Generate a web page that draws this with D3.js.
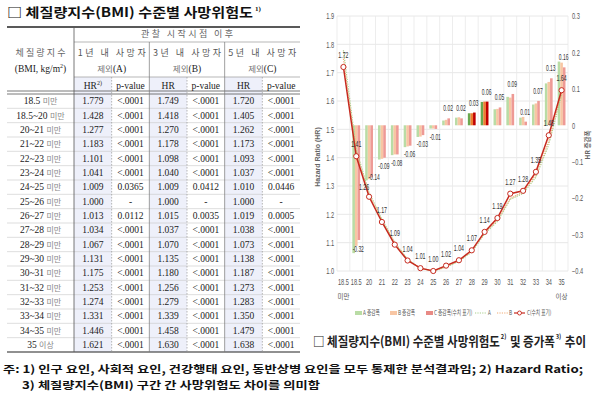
<!DOCTYPE html>
<html><head><meta charset="utf-8">
<script src="https://cdn.jsdelivr.net/npm/d3@7"></script>
<style>html,body{margin:0;padding:0;background:#fff;}svg{display:block;}</style>
</head><body>
<svg id="c" width="600" height="397"></svg>
<script>
// ---------------- DATA ----------------
const categories = ["18.5 미만","18.5~20 미만","20~21 미만","21~22 미만","22~23 미만","23~24 미만","24~25 미만","25~26 미만","26~27 미만","27~28 미만","28~29 미만","29~30 미만","30~31 미만","31~32 미만","32~33 미만","33~34 미만","34~35 미만","35 이상"];
const rowNums = ["18.5","18.5~20","20~21","21~22","22~23","23~24","24~25","25~26","26~27","27~28","28~29","29~30","30~31","31~32","32~33","33~34","34~35","35"];
const rowWords = ["미만","미만","미만","미만","미만","미만","미만","미만","미만","미만","미만","미만","미만","미만","미만","미만","미만","이상"];
const hrA = [1.779,1.428,1.277,1.183,1.101,1.041,1.009,1.000,1.013,1.034,1.067,1.131,1.175,1.253,1.274,1.331,1.446,1.621];
const pA  = ["<.0001","<.0001","<.0001","<.0001","<.0001","<.0001","0.0365","-","0.0112","<.0001","<.0001","<.0001","<.0001","<.0001","<.0001","<.0001","<.0001","<.0001"];
const hrB = [1.749,1.418,1.270,1.178,1.098,1.040,1.009,1.000,1.015,1.037,1.070,1.135,1.180,1.256,1.279,1.339,1.458,1.630];
const pB  = ["<.0001","<.0001","<.0001","<.0001","<.0001","<.0001","0.0412","-","0.0035","<.0001","<.0001","<.0001","<.0001","<.0001","<.0001","<.0001","<.0001","<.0001"];
const hrC = [1.720,1.405,1.262,1.173,1.093,1.037,1.010,1.000,1.019,1.038,1.073,1.138,1.187,1.273,1.283,1.350,1.479,1.638];
const pC  = ["<.0001","<.0001","<.0001","<.0001","<.0001","<.0001","0.0446","-","0.0005","<.0001","<.0001","<.0001","<.0001","<.0001","<.0001","<.0001","<.0001","<.0001"];
const groupTitles = ["1년 내 사망자","3년 내 사망자","5년 내 사망자"];
const groupSubs = ["제외(A)","제외(B)","제외(C)"];

// chart
const xTickLabels = ["18.5","18.5","20","21","22","23","24","25","26","27","28","29","30","31","32","33","34","35"];
const xSubLabels  = ["미만","","","","","","","","","","","","","","","","","이상"];
const hrLabelsC = ["1.72","1.41","1.26","1.17","1.09","1.04","1.01","1.00","1.02","1.04","1.07","1.14","1.19","1.27","1.28","1.35","1.48","1.64"];
const barCats = categories.slice(1);
const incA = [-0.351,-0.151,-0.094,-0.082,-0.060,-0.032,-0.009,0.013,0.021,0.033,0.064,0.044,0.078,0.021,0.057,0.115,0.175];
const incB = [-0.331,-0.148,-0.092,-0.080,-0.058,-0.031,-0.009,0.015,0.022,0.033,0.065,0.045,0.076,0.023,0.060,0.119,0.172];
const incC = [-0.315,-0.143,-0.089,-0.080,-0.056,-0.027,-0.010,0.019,0.019,0.035,0.065,0.049,0.086,0.010,0.067,0.129,0.159];
const incLabels = ["-0.32","-0.14","-0.09","-0.08","-0.06","-0.03","-0.01","0.02","0.02","0.03","0.06","0.05","0.09","0.01","0.07","0.13","0.16"];
const highlightCats = ["28~29 미만","29~30 미만"];
const leftTicks = [1.0,1.1,1.2,1.3,1.4,1.5,1.6,1.7,1.8,1.9];
const rightTicks = [-0.4,-0.3,-0.2,-0.1,0,0.1,0.2,0.3];
const legendLabels = ["A 증감폭","B 증감폭","C 증감폭(수치 표기)","A","B","C(수치 표기)"];

// ---------------- DRAW ----------------
const svg = d3.select("#c");
svg.append("rect").attr("width",600).attr("height",397).attr("fill","#fff");
const serif = "'Liberation Serif','Noto Sans CJK KR',serif";
const kr = "'Noto Sans CJK KR','Liberation Serif',sans-serif";
const narrow = "'Liberation Sans Narrow','Liberation Sans',Arial,sans-serif";
function sLabel(parent, x, y, txt, sx, opts={}){
  const g = parent.append("g").attr("transform",`translate(${x},${y}) scale(${sx},1)`);
  return g.append("text").attr("x",0).attr("y",0).attr("text-anchor",opts.anchor||"middle")
    .attr("font-family",opts.family||narrow).attr("font-size",opts.size||8.5).attr("fill",opts.fill||"#333")
    .attr("font-weight",opts.weight||400).text(txt);
}

// ===== Left title =====
svg.append("text").attr("x",7).attr("y",17).attr("font-family",kr).attr("font-weight",700)
  .attr("font-size",13).attr("fill","#111").attr("textLength",246).attr("lengthAdjust","spacingAndGlyphs")
  .text("□ 체질량지수(BMI) 수준별 사망위험도");
svg.append("text").attr("x",255).attr("y",11).attr("font-family",serif).attr("font-weight",700)
  .attr("font-size",7).attr("fill","#111").text("1)");

// ===== Table =====
const T = svg.append("g");
const tL = 7, tR = 300, c0 = 74;
const colKeys = ["AHR","Ap","BHR","Bp","CHR","Cp"];
const xCol = d3.scaleBand().domain(colKeys).range([c0,tR]);
const yRow = d3.scaleBand().domain(categories).range([94,352]);

["AHR","BHR","CHR"].forEach(k=>{
  T.append("rect").attr("x",xCol(k)).attr("y",77).attr("width",xCol.bandwidth()).attr("height",352-77)
    .attr("fill","#eef0fa");
});
categories.forEach((c,i)=>{
  if(i>0) T.append("line").attr("x1",tL).attr("x2",tR).attr("y1",yRow(c)).attr("y2",yRow(c))
    .attr("stroke","#c8c8c8").attr("stroke-width",0.6);
});
T.append("line").attr("x1",tL).attr("x2",tR).attr("y1",27).attr("y2",27).attr("stroke","#222").attr("stroke-width",1.6);
T.append("line").attr("x1",c0).attr("x2",tR).attr("y1",42).attr("y2",42).attr("stroke","#999").attr("stroke-width",0.7);
T.append("line").attr("x1",c0).attr("x2",tR).attr("y1",77).attr("y2",77).attr("stroke","#999").attr("stroke-width",0.7);
T.append("line").attr("x1",tL).attr("x2",tR).attr("y1",91).attr("y2",91).attr("stroke","#555").attr("stroke-width",0.8);
T.append("line").attr("x1",tL).attr("x2",tR).attr("y1",94).attr("y2",94).attr("stroke","#555").attr("stroke-width",0.8);
T.append("line").attr("x1",tL).attr("x2",tR).attr("y1",352).attr("y2",352).attr("stroke","#222").attr("stroke-width",1.2);
T.append("line").attr("x1",c0).attr("x2",c0).attr("y1",27).attr("y2",352).attr("stroke","#555").attr("stroke-width",0.8);
["BHR","CHR"].forEach(k=>T.append("line").attr("x1",xCol(k)).attr("x2",xCol(k)).attr("y1",42).attr("y2",352).attr("stroke","#777").attr("stroke-width",0.7));
["Ap","Bp","Cp"].forEach(k=>T.append("line").attr("x1",xCol(k)).attr("x2",xCol(k)).attr("y1",77).attr("y2",352)
  .attr("stroke","#999").attr("stroke-width",0.7).attr("stroke-dasharray","1.5,1.5"));

T.append("text").attr("x",187).attr("y",37).attr("text-anchor","middle").attr("font-family",kr)
  .attr("font-size",9).attr("fill","#666").attr("textLength",92).attr("lengthAdjust","spacing").text("관찰 시작시점 이후");
T.append("text").attr("x",40.5).attr("y",55.5).attr("text-anchor","middle").attr("font-family",kr)
  .attr("font-size",9).attr("fill","#666").attr("textLength",50).attr("lengthAdjust","spacing").text("체질량지수");
const bmi = T.append("text").attr("x",40.5).attr("y",72).attr("text-anchor","middle").attr("font-family",serif)
  .attr("font-size",9.5).attr("fill","#222");
bmi.append("tspan").text("(BMI, kg/m");
bmi.append("tspan").attr("font-size",6).attr("dy",-4).text("2");
bmi.append("tspan").attr("dy",4).text(")");
["A","B","C"].forEach((g,i)=>{
  const cx = xCol(g+"HR")+xCol.bandwidth();
  T.append("text").attr("x",cx).attr("y",55.5).attr("text-anchor","middle").attr("font-family",kr)
    .attr("font-size",9).attr("fill","#555").attr("textLength",68).attr("lengthAdjust","spacing").text(groupTitles[i]);
  const s = T.append("text").attr("x",cx).attr("y",72).attr("text-anchor","middle").attr("font-size",9.5);
  s.append("tspan").attr("font-family",kr).attr("fill","#777").attr("font-size",8.5).text("제외");
  s.append("tspan").attr("font-family",serif).attr("fill","#222").text(groupSubs[i].slice(2));
  const h = T.append("text").attr("x",xCol(g+"HR")+xCol.bandwidth()/2).attr("y",88.5).attr("text-anchor","middle")
    .attr("font-family",serif).attr("font-size",9.5).attr("fill","#222");
  h.append("tspan").text("HR");
  if(i===0){ h.append("tspan").attr("font-size",6).attr("dy",-4).text("2)"); }
  T.append("text").attr("x",xCol(g+"p")+xCol.bandwidth()/2).attr("y",88.5).attr("text-anchor","middle")
    .attr("font-family",serif).attr("font-size",9.5).attr("fill","#222").text("p-value");
});
const hrs = {A:hrA,B:hrB,C:hrC}, ps = {A:pA,B:pB,C:pC};
categories.forEach((c,i)=>{
  const yb = yRow(c)+yRow.bandwidth()/2+3.3;
  const t = T.append("text").attr("x",40.5).attr("y",yb).attr("text-anchor","middle").attr("font-size",9.5);
  t.append("tspan").attr("font-family",serif).attr("fill","#222").text(rowNums[i]+" ");
  t.append("tspan").attr("font-family",kr).attr("font-size",8).attr("fill","#888").text(" "+rowWords[i]);
  ["A","B","C"].forEach(g=>{
    T.append("text").attr("x",xCol(g+"HR")+xCol.bandwidth()/2).attr("y",yb).attr("text-anchor","middle")
      .attr("font-family",serif).attr("font-size",9.5).attr("fill","#222").text(hrs[g][i].toFixed(3));
    T.append("text").attr("x",xCol(g+"p")+xCol.bandwidth()/2).attr("y",yb).attr("text-anchor","middle")
      .attr("font-family",serif).attr("font-size",9.5).attr("fill","#222").text(ps[g][i]);
  });
});

// footnotes
svg.append("text").attr("x",3).attr("y",373).attr("font-family",kr).attr("font-weight",700).attr("font-size",10.5)
  .attr("fill","#111").attr("textLength",580).attr("lengthAdjust","spacingAndGlyphs")
  .text("주: 1) 인구 요인, 사회적 요인, 건강행태 요인, 동반상병 요인을 모두 통제한 분석결과임; 2) Hazard Ratio;");
svg.append("text").attr("x",22).attr("y",389).attr("font-family",kr).attr("font-weight",700).attr("font-size",10.5)
  .attr("fill","#111").attr("textLength",298).attr("lengthAdjust","spacingAndGlyphs")
  .text("3) 체질량지수(BMI) 구간 간 사망위험도 차이를 의미함");

// ===== Chart =====
const P = {l:337, r:568, t:16, b:271};
const G = svg.append("g");
const x = d3.scaleBand().domain(categories).range([P.l,P.r]).padding(0);
const yL = d3.scaleLinear().domain([1.0,1.9]).range([P.b,P.t]);
const yR = d3.scaleLinear().domain([-0.4,0.3]).range([P.b,P.t]);
const bw = x.bandwidth();

G.selectAll(".hg").data(leftTicks).join("line").attr("x1",P.l).attr("x2",P.r)
  .attr("y1",d=>yL(d)).attr("y2",d=>yL(d)).attr("stroke","#e2e2e2").attr("stroke-width",0.8);
const vEdges = categories.map(c=>x(c)).concat([P.r]);
G.selectAll(".vg").data(vEdges).join("line").attr("x1",d=>d).attr("x2",d=>d)
  .attr("y1",P.t).attr("y2",P.b).attr("stroke","#e8e8e8").attr("stroke-width",0.8);

const axL = G.append("g").attr("transform",`translate(${P.l-3},0)`)
  .call(d3.axisLeft(yL).tickValues(leftTicks).tickFormat(d3.format(".1f")).tickSize(0).tickPadding(0));
const axR = G.append("g").attr("transform",`translate(${P.r+4},0)`)
  .call(d3.axisRight(yR).tickValues(rightTicks).tickFormat(d=>d===0?"0":d3.format(".1f")(d)).tickSize(0).tickPadding(0));
const axX = G.append("g").attr("transform",`translate(0,${P.b})`)
  .call(d3.axisBottom(x).tickFormat((d,i)=>xTickLabels[i]).tickSize(0).tickPadding(8));
[axL,axR,axX].forEach(a=>{a.select(".domain").remove();
  a.selectAll("text").attr("font-family",narrow).attr("font-size",8.5).attr("fill","#555").attr("transform","scale(0.66,1)");});
G.selectAll(".xs").data(categories.filter((c,i)=>xSubLabels[i])).join("text")
  .attr("x",d=>x(d)+bw/2).attr("y",299).attr("text-anchor","middle").attr("font-family",kr)
  .attr("font-size",6.5).attr("fill","#555").text(d=>xSubLabels[categories.indexOf(d)]);

G.append("text").attr("transform","translate(320,157) rotate(-90)").attr("text-anchor","middle")
  .attr("font-family",narrow).attr("font-weight",700).attr("font-size",7).attr("fill","#666").text("Hazard Ratio (HR)");
G.append("text").attr("transform","translate(590,145) rotate(-90)").attr("text-anchor","middle")
  .attr("font-family",kr).attr("font-weight",700).attr("font-size",6.5).attr("fill","#666").text("HR 증감폭");

// bars
const series = [
  {key:"A", vals:incA, light:"#b9dca5", dark:"#6aa84f"},
  {key:"B", vals:incB, light:"#f8c6a3", dark:"#ee7d31"},
  {key:"C", vals:incC, light:"#ee9a95", dark:"#c00000"}
];
const gw = 7.8;
const xSub = d3.scaleBand().domain(["A","B","C"]).range([0,gw]);
series.forEach(s=>{
  G.append("g").selectAll("rect").data(barCats).join("rect")
    .attr("x",d=>x(d)+(bw-gw)/2+xSub(s.key))
    .attr("width",xSub.bandwidth())
    .attr("y",(d,i)=>Math.min(yR(0),yR(s.vals[i])))
    .attr("height",(d,i)=>Math.abs(yR(s.vals[i])-yR(0)))
    .attr("fill",d=>highlightCats.includes(d)?s.dark:s.light);
});
const nudge = {"20~21 미만":[3,-9]};
const BL = G.append("g");
barCats.forEach((d,i)=>{
  const v = incC[i], e = yR(v), n = nudge[d]||[0,0];
  sLabel(BL, x(d)+bw/2+2+n[0], (v<0? e+11.5 : e-7)+n[1], incLabels[i], 0.58);
});

// lines
const line = arr => d3.line().x((d,i)=>x(categories[i])+bw/2).y(d=>yL(d))(arr);
G.append("path").attr("d",line(hrA)).attr("fill","none").attr("stroke","#a9cf8c").attr("stroke-width",1.2).attr("stroke-dasharray","1.2,1.2");
G.append("path").attr("d",line(hrB)).attr("fill","none").attr("stroke","#f2ab74").attr("stroke-width",1.2).attr("stroke-dasharray","1.2,1.2");
G.append("path").attr("d",line(hrC)).attr("fill","none").attr("stroke","#c62a1f").attr("stroke-width",1.5);
G.append("g").selectAll("circle").data(hrC).join("circle")
  .attr("cx",(d,i)=>x(categories[i])+bw/2).attr("cy",d=>yL(d)).attr("r",2.6)
  .attr("fill","#fff").attr("stroke","#c62a1f").attr("stroke-width",1);
const lineNudge = {"20~21 미만":[-5,2]};
const LL = G.append("g");
hrC.forEach((v,i)=>{
  const n = lineNudge[categories[i]]||[0,0];
  sLabel(LL, x(categories[i])+bw/2+n[0], yL(v)-9+n[1], hrLabelsC[i], 0.62);
});

// legend
const L = G.append("g").attr("fill","#555");
const legY = 313;
const legItems = [
  {t:"rect", c:"#b9dca5", x:355, tx:363},
  {t:"rect", c:"#f8c6a3", x:390, tx:398},
  {t:"rect", c:"#e88a85", x:426, tx:434},
  {t:"dot",  c:"#a9cf8c", x:475, tx:488},
  {t:"dot",  c:"#f2ab74", x:497, tx:509},
  {t:"line", c:"#c62a1f", x:514, tx:527}
];
legItems.forEach((it,i)=>{
  if(it.t==="rect") L.append("rect").attr("x",it.x).attr("y",legY-2).attr("width",7).attr("height",4).attr("fill",it.c);
  else if(it.t==="dot") L.append("line").attr("x1",it.x).attr("x2",it.x+11).attr("y1",legY).attr("y2",legY)
    .attr("stroke",it.c).attr("stroke-width",1.2).attr("stroke-dasharray","1.2,1.2");
  else { L.append("line").attr("x1",it.x).attr("x2",it.x+11).attr("y1",legY).attr("y2",legY).attr("stroke",it.c).attr("stroke-width",1.2);
    L.append("circle").attr("cx",it.x+5.5).attr("cy",legY).attr("r",2).attr("fill","#fff").attr("stroke",it.c).attr("stroke-width",0.9); }
  sLabel(L, it.tx, legY+2.2, legendLabels[i], 0.72, {anchor:"start", family:kr, size:6.5, fill:"#555"});
});

// chart title: pieces at natural width inside a horizontally squeezed group
const titleParts = [
  {t:"□ 체질량지수(BMI) 수준별 사망위험도", sup:false, gap:1},
  {t:"2)", sup:true, gap:4},
  {t:"및 증가폭", sup:false, gap:1},
  {t:"3)", sup:true, gap:4},
  {t:"추이", sup:false, gap:0}
];
const TG = svg.append("g").attr("transform","translate(313,346) scale(0.885,1)");
let cursor = 0;
titleParts.forEach(p=>{
  const el = TG.append("text").attr("x",cursor).attr("y",p.sup?-7:0).attr("font-family",kr).attr("font-weight",700)
    .attr("font-size",p.sup?6.5:13).attr("fill","#222").text(p.t);
  cursor += el.node().getComputedTextLength() + p.gap;
});
</script>
</body></html>
